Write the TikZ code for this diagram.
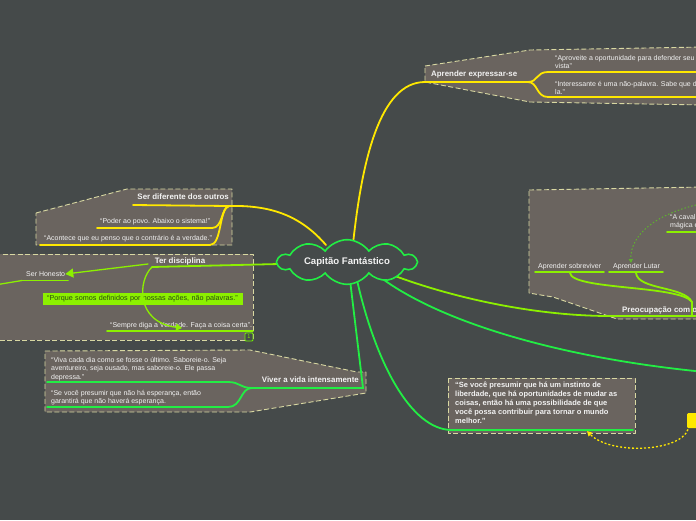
\documentclass[tikz,border=0pt]{standalone}
\usepackage{fontspec}
\setmainfont{Liberation Sans}
\usetikzlibrary{shapes.symbols,arrows.meta}
\definecolor{bg}{HTML}{454A4A}
\definecolor{boxfill}{HTML}{6A645F}
\definecolor{dashc}{HTML}{D8D8A2}
\definecolor{yel}{HTML}{FFE800}
\definecolor{lime}{HTML}{8CF000}
\definecolor{grn}{HTML}{22EE44}
\definecolor{dotg}{HTML}{5FB030}
\definecolor{txt}{HTML}{F2F2F2}
\definecolor{darkg}{HTML}{2A4A10}
\begin{document}
\begin{tikzpicture}[x=1pt,y=-1pt,
  panel/.style={fill=boxfill, draw=dashc, dash pattern=on 5pt off 2.5pt, line width=0.9pt, line join=round},
  small/.style={font=\fontsize{7}{8.4}\selectfont, text=txt, inner sep=0pt, align=left},
  lbl/.style={font=\fontsize{7.9}{9}\selectfont\bfseries, text=txt, inner sep=0pt},
  conn/.style={line width=1.8pt, line cap=round},
  thin/.style={line width=1.3pt, line cap=round},
]
\fill[bg] (0,0) rectangle (696,520);
\useasboundingbox (0,0) rectangle (696,520);

% panels
\draw[panel] (425,66) -- (530,50) -- (705,47) -- (705,105) -- (530,102) -- (425,82) -- cycle;
\draw[panel] (36,213) -- (127,189) -- (232,189) -- (232,245) -- (36,245) -- cycle;
\draw[panel] (-5,254) -- (253,254) -- (253,340) -- (-5,340) -- cycle;
\draw[panel] (45,351) -- (250,350) -- (357,372) -- (366,372) -- (366,393) -- (250,412) -- (45,412) -- cycle;
\draw[panel] (448,378) rectangle (635,433);
\draw[panel] (529,190) -- (705,187) -- (705,319) -- (617,319) -- (553,297) -- (529,293) -- cycle;

% coordinates
\coordinate (c1) at (353,244);
\coordinate (c2) at (326,245);
\coordinate (c3) at (279,264);
\coordinate (c4) at (350,280);
\coordinate (c5) at (357,280);
\coordinate (c6) at (395,276);
\coordinate (c7) at (380,277);
\coordinate (j1) at (528,82);
\coordinate (e11) at (705,72);
\coordinate (e12) at (705,97);
\coordinate (j2) at (229,206);
\coordinate (j3) at (152,267);
\coordinate (j4a) at (363,388);
\coordinate (j4) at (252,388);
\coordinate (j6) at (692,302);
\coordinate (e6) at (705,316);
\coordinate (e7) at (705,372);
\coordinate (eh) at (-5,285);

% text nodes
\node[lbl, anchor=west] (n1) at (431,74) {Aprender expressar-se};
\node[small, anchor=north west] (t11) at (555,55) {“Aproveite a oportunidade para defender seu\\vista”};
\node[small, anchor=north west] (t12) at (555,81) {“Interessante é uma não-palavra. Sabe que d\\la.”};

\node[lbl, anchor=east] (n2) at (229,197) {Ser diferente dos outros};
\node[small, anchor=west] (t21) at (100,222) {“Poder ao povo. Abaixo o sistema!”};
\node[small, anchor=west] (t22) at (44,239) {“Acontece que eu penso que o contrário é a verdade.”};

\node[lbl] (n3) at (180,261) {Ter disciplina};
\node[small, anchor=west] (t31) at (26,274) {Ser Honesto};
\node[fill=lime, text=darkg, font=\fontsize{7.2}{8}\selectfont, anchor=west, minimum width=200pt, minimum height=12pt, inner xsep=4pt, inner ysep=0pt, text width=192pt, align=left] (t32) at (43,299) {“Porque somos definidos por nossas ações, não palavras.”};
\node[small, anchor=west] (t33) at (110,326) {“Sempre diga a Verdade. Faça a coisa certa”.};
\node[draw=lime!80!green, line width=0.8pt, fill=bg, rounded corners=1pt, minimum width=8pt, minimum height=8pt, inner sep=0pt, text=lime, font=\fontsize{5.5}{6}\selectfont] (badge) at (249,337) {1};

\node[lbl, anchor=east] (n4) at (359,380) {Viver a vida intensamente};
\node[small, anchor=north west] (t41) at (51,357) {“Viva cada dia como se fosse o último. Saboreie-o. Seja\\aventureiro, seja ousado, mas saboreie-o. Ele passa\\depressa.”};
\node[small, anchor=north west] (t42) at (51,390) {“Se você presumir que não há esperança, então\\garantirá que não haverá esperança.};

\node[font=\fontsize{7.5}{9}\selectfont\bfseries, text=txt, inner sep=0pt, align=left, anchor=north west] (t5) at (455,382) {“Se você presumir que há um instinto de\\liberdade, que há oportunidades de mudar as\\coisas, então há uma possibilidade de que\\você possa contribuir para tornar o mundo\\melhor.”};

\node[lbl, anchor=west] (n6) at (622,310) {Preocupação com o};
\node[small, anchor=west] (t61) at (538,266.5) {Aprender sobreviver};
\node[small, anchor=west] (t62) at (613,266.5) {Aprender Lutar};
\node[small, anchor=north west] (t63) at (670,214) {“A caval\\mágica e};

\node[fill=yel, rounded corners=1pt, minimum width=16pt, minimum height=15pt, inner sep=0pt, anchor=north west] (ysq) at (687,413) {};

% connectors: yellow
\draw[conn,yel] (c1) .. controls (362,160) and (380,82) .. (425,82) -- (j1);
\draw[conn,yel] (j1) .. controls (538,82) and (536,72) .. (548,72) -- (e11);
\draw[conn,yel] (j1) .. controls (538,82) and (536,97) .. (548,97) -- (e12);

\draw[conn,yel] (c2) .. controls (300,215) and (270,205) .. (j2) -- (133,205);
\draw[conn,yel] (j2) .. controls (221,208) and (223,228) .. (212,228) -- (97,228);
\draw[conn,yel] (j2) .. controls (219,208) and (222,245) .. (210,245) -- (40,245);

% lime: Ter disciplina
\draw[conn,lime] (c3) -- (j3);
\draw[thin,lime,-{Triangle[length=8pt,width=9pt]}] (j3) ++(-4,-3) -- (t31.east);
\draw[conn,lime] (22,280.5) -- (68,280.5);
\draw[thin,lime] (22,280.5) -- (eh);
\draw[thin,lime,-{Triangle[length=6pt,width=7pt]}] (j3) .. controls (138,280) and (135,322) .. (182,328);
\draw[conn,lime] (107,331) -- (253,331);

% green: Viver a vida
\draw[conn,grn] (c4) -- (j4a) -- (j4);
\draw[conn,grn] (j4) .. controls (240,388) and (240,382) .. (228,382) -- (47,382);
\draw[conn,grn] (j4) .. controls (240,388) and (242,407) .. (228,407) -- (47,407);

% green: instinto de liberdade
\draw[conn,grn] (c5) .. controls (375,360) and (410,430) .. (452,430) -- (633,430);
\draw[yel, line width=1.3pt, dash pattern=on 2pt off 2pt, -{Triangle[length=5pt,width=5pt]}] (ysq.south west) ++(1,1) .. controls (680,452) and (610,455) .. (587,431);

% lime: Preocupacao
\draw[conn,lime] (c6) .. controls (460,300) and (540,316) .. (610,316) -- (e6);
\draw[conn,lime] (j6) -- (692,316);
\draw[conn,lime] (570,273) .. controls (572,290) and (680,285) .. (j6);
\draw[conn,lime] (636,273) .. controls (638,290) and (684,286) .. (j6);
\draw[conn,lime] (535,272) -- (604,272);
\draw[conn,lime] (609,272) -- (663,272);
\draw[conn,lime] (667,232) -- (705,232);
\draw[dotg, line width=1pt, dash pattern=on 1.5pt off 2pt, -{Triangle[length=4pt,width=4pt]}] (696,205) .. controls (655,215) and (630,235) .. (t62.north -| 631,0);

% green to right edge
\draw[conn,grn] (c7) .. controls (440,322) and (560,358) .. (e7);

% central cloud
\node[cloud, cloud puffs=10, cloud puff arc=110, aspect=4.6, draw=grn, line width=1.6pt, fill=bg, minimum width=138pt, minimum height=28pt, inner sep=0pt, text=txt, font=\fontsize{9.6}{10}\selectfont\bfseries] (cap) at (347,262) {Capitão Fantástico};
\end{tikzpicture}
\end{document}
